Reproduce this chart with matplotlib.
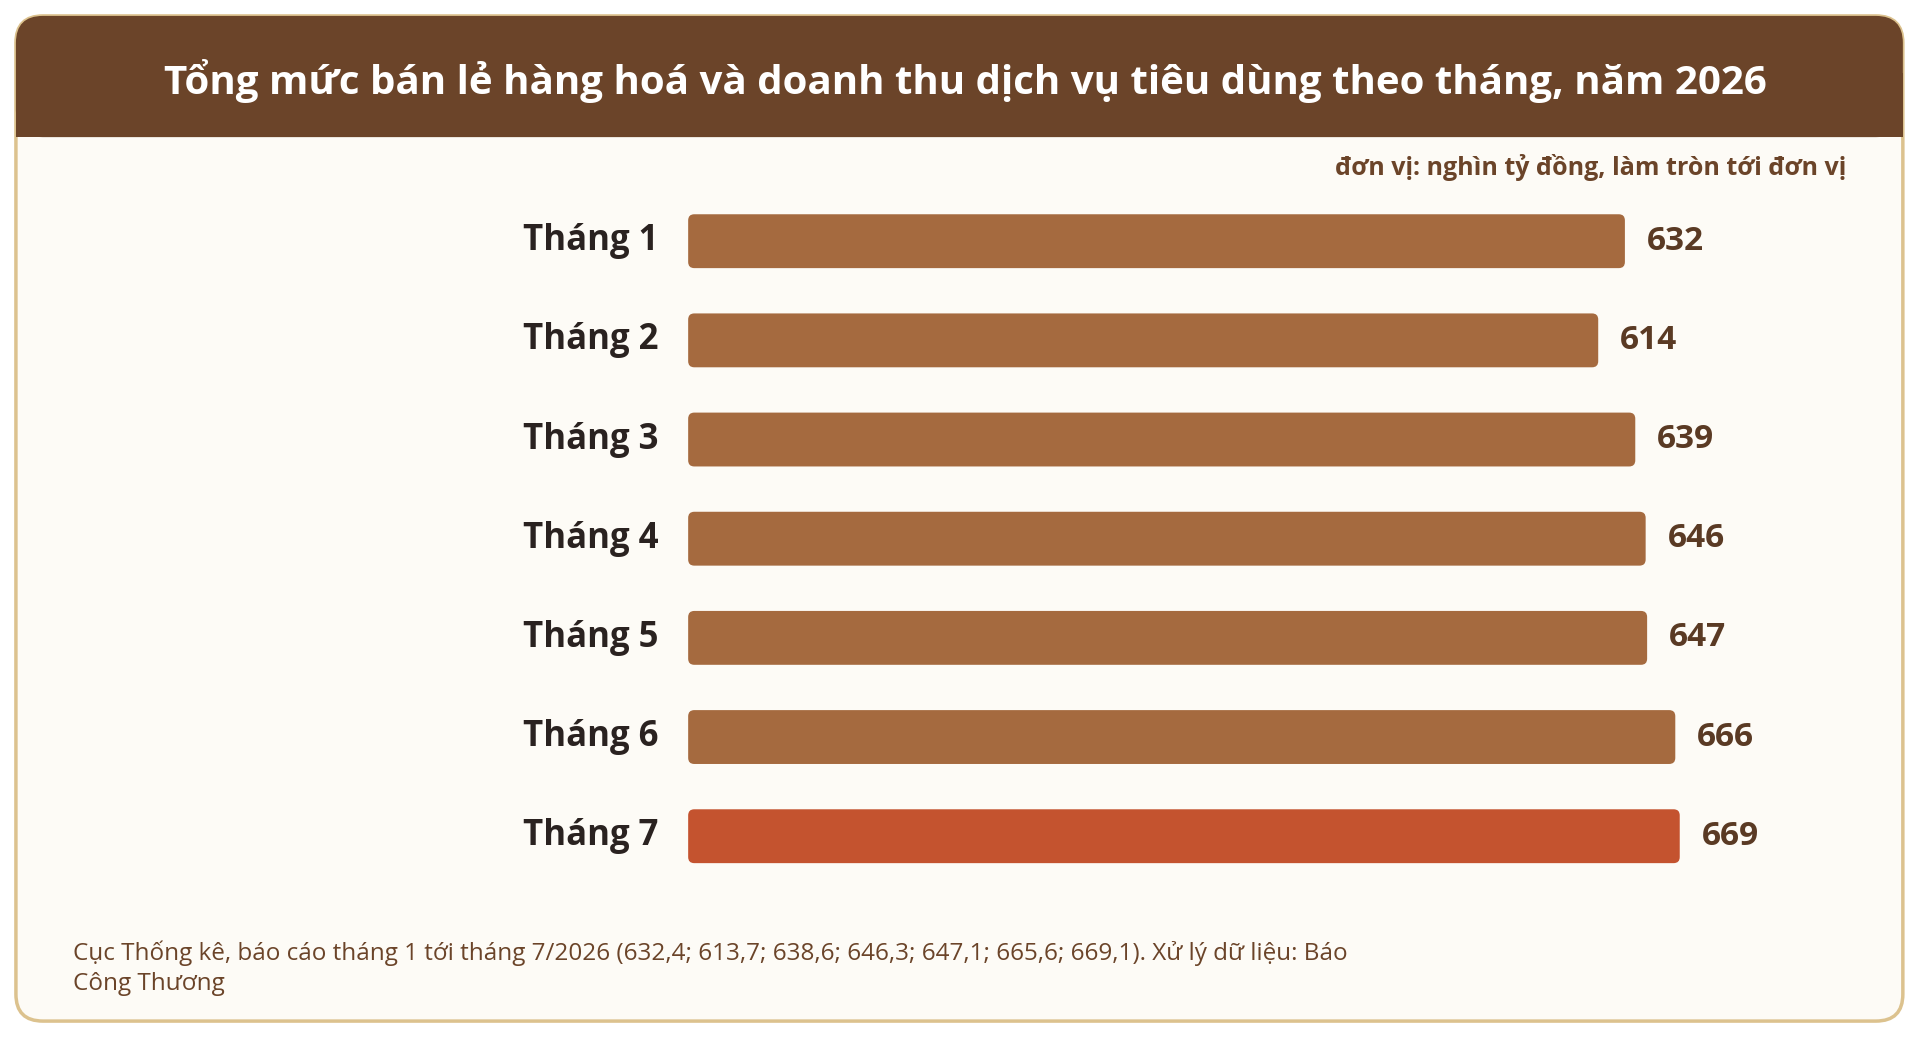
import matplotlib
matplotlib.use("Agg")
import matplotlib.pyplot as plt
from matplotlib.patches import FancyBboxPatch

plt.rcParams['font.family'] = ['Open Sans', 'DejaVu Sans']

months = ["Tháng 1", "Tháng 2", "Tháng 3", "Tháng 4", "Tháng 5", "Tháng 6", "Tháng 7"]
values = [632, 614, 639, 646, 647, 666, 669]
colors = ["#a56a3f"] * 6 + ["#c4532f"]
title = "Tổng mức bán lẻ hàng hoá và doanh thu dịch vụ tiêu dùng theo tháng, năm 2026"
unit = "đơn vị: nghìn tỷ đồng, làm tròn tới đơn vị"
source = ("Cục Thống kê, báo cáo tháng 1 tới tháng 7/2026 (632,4; 613,7; 638,6; 646,3; 647,1; 665,6; 669,1). Xử lý dữ liệu: Báo\n"
          "Công Thương")

W, H = 1568, 847  # reference coordinate frame
fig = plt.figure(figsize=(19.2, 10.37), dpi=100)
fig.patch.set_facecolor("white")
bg = fig.add_axes([0, 0, 1, 1])
bg.set_xlim(0, W); bg.set_ylim(H, 0); bg.axis("off")

# card
bg.add_patch(FancyBboxPatch((13, 13), 1541, 821, boxstyle="round,pad=0,rounding_size=22",
                            fc="#fdfbf6", ec="#dcc28e", lw=2.5))
bg.add_patch(FancyBboxPatch((13, 13), 1541, 99, boxstyle="round,pad=0,rounding_size=22",
                            fc="#6b4429", ec="none"))
bg.add_patch(plt.Rectangle((13, 60), 1541, 52, fc="#6b4429", ec="none"))
bg.text(788, 66, title, color="white", fontsize=29, fontweight="bold", ha="center", va="center")
bg.text(1508, 137, unit, color="#6b4429", fontsize=18, fontweight="bold", ha="right", va="center")
bg.text(60, 791, source, color="#6b4429", fontsize=17.5, ha="left", va="center", linespacing=1.35)

# bar axes
x0, x1 = 562, 1520
y_top, y_bot = 156.5, 723.5
ax = fig.add_axes([x0 / W, 1 - y_bot / H, (x1 - x0) / W, (y_bot - y_top) / H])
ax.axis("off")
pxu = (1327 - 562) / 632.0
xmax = (x1 - x0) / pxu
ax.set_xlim(0, xmax)
ax.set_ylim(len(values) - 0.5, -0.5)
h = 44 / 81
for i, (m, v, c) in enumerate(zip(months, values, colors)):
    ax.add_patch(FancyBboxPatch((0, i - h / 2), v, h,
                                boxstyle="round,pad=0,rounding_size=%f" % (5 / pxu),
                                mutation_aspect=(1 / 81) / (1 / pxu), fc=c, ec="none"))
    ax.text(v + 18 / pxu, i, str(v), color="#5a3a24", fontsize=24, fontweight="bold",
            ha="left", va="center")
    ax.text(-24 / pxu, i, m, color="#2a2220", fontsize=25, fontweight="bold",
            ha="right", va="center", clip_on=False)

fig.savefig("out.png", dpi=100, facecolor=fig.get_facecolor())
